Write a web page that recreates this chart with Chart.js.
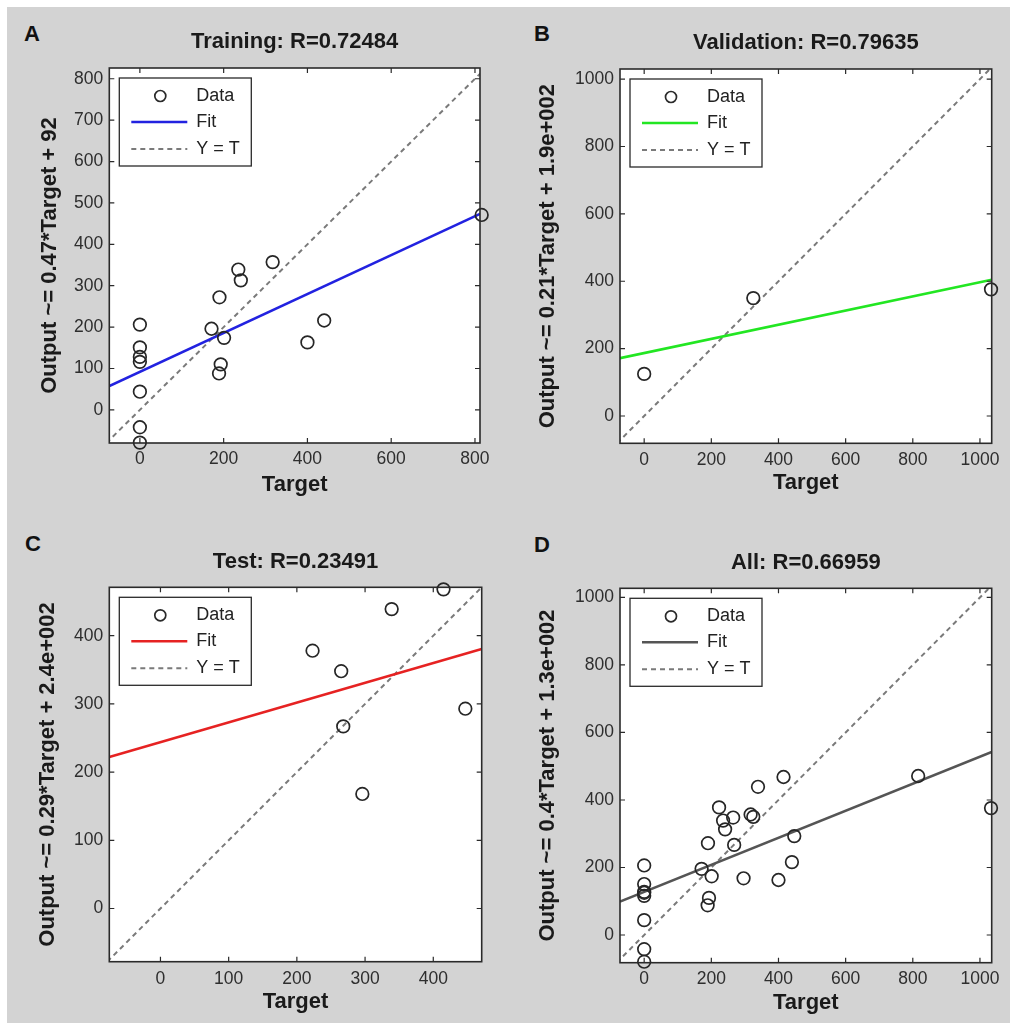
<!DOCTYPE html>
<html>
<head>
<meta charset="utf-8">
<script src="https://cdn.jsdelivr.net/npm/chart.js@4.4.1/dist/chart.umd.min.js"></script>
<style>
  html, body { margin: 0; padding: 0; background: #fff; }
  #fig { position: absolute; left: 7px; top: 7px; width: 1003px; height: 1016px; background: #d3d3d3; }
  canvas { position: absolute; }
  .letter { position: absolute; font: bold 22px "Liberation Sans", Arial, sans-serif; line-height: 22px; color: #111; }
</style>
</head>
<body>
<div id="fig"></div>
<div class="letter" style="left:24px;top:23px">A</div>
<div class="letter" style="left:534px;top:23px">B</div>
<div class="letter" style="left:25px;top:533px">C</div>
<div class="letter" style="left:534px;top:534px">D</div>
<canvas id="chartA" width="505" height="510" style="left:0;top:0"></canvas>
<canvas id="chartB" width="505" height="510" style="left:505px;top:0"></canvas>
<canvas id="chartC" width="505" height="513" style="left:0;top:510px"></canvas>
<canvas id="chartD" width="505" height="513" style="left:505px;top:510px"></canvas>
<script>
  // training set
  const trainTarget = [0, 0, 0, 0, 0, 0, 0, 190, 171, 201, 193, 189, 235, 241, 317, 400, 440, 816]
  const trainOutput = [206, 151, 128, 116, 44, -42, -79, 272, 196, 174, 110, 88, 339, 313, 357, 163, 216, 471]
  const trainFit = [0.47, 92]

  // validation set
  const valTarget = [0, 325, 1033]
  const valOutput = [125, 350, 376]
  const valFit = [0.21, 187]

  // test set
  const testTarget = [223, 265, 268, 296, 339, 415, 447]
  const testOutput = [378, 348, 267, 168, 439, 468, 293]
  const testFit = [0.29, 244]

  // all data
  const allTarget = trainTarget.concat(valTarget, testTarget)
  const allOutput = trainOutput.concat(valOutput, testOutput)
  const allFit = [0.4, 128]

  const ticks800 = [0, 200, 400, 600, 800]
  const ticks800y = [0, 100, 200, 300, 400, 500, 600, 700, 800]
  const ticks1000 = [0, 200, 400, 600, 800, 1000]
  const ticks400 = [0, 100, 200, 300, 400]

  const FONT = '"Liberation Sans", Arial, Helvetica, sans-serif'

  const panels = [
    { id: 'chartA', W: 505, H: 510, L: 109.3, R: 480, T: 68, B: 443,
      title: 'Training: R=0.72484', yLabel: 'Output ~= 0.47*Target + 92',
      target: trainTarget, output: trainOutput, fit: trainFit, color: '#2222e0',
      xLim: [-73, 812], yLim: [-80, 826], xTicks: ticks800, yTicks: ticks800y,
      yTitleX: 50, xTitleY: 485, xTickPad: 5.5 },
    { id: 'chartB', W: 505, H: 510, L: 115, R: 486.7, T: 69, B: 443.3,
      title: 'Validation: R=0.79635', yLabel: 'Output ~= 0.21*Target + 1.9e+002',
      target: valTarget, output: valOutput, fit: valFit, color: '#22e622',
      xLim: [-72, 1035], yLim: [-81, 1030], xTicks: ticks1000, yTicks: ticks1000,
      yTitleX: 43, xTitleY: 483, xTickPad: 6 },
    { id: 'chartC', W: 505, H: 513, L: 109.3, R: 481.7, T: 77.3, B: 451.7,
      title: 'Test: R=0.23491', yLabel: 'Output ~= 0.29*Target + 2.4e+002',
      target: testTarget, output: testOutput, fit: testFit, color: '#e62222',
      xLim: [-75, 471], yLim: [-78, 471], xTicks: ticks400, yTicks: ticks400,
      yTitleX: 48, xTitleY: 492, xTickPad: 7 },
    { id: 'chartD', W: 505, H: 513, L: 115, R: 486.7, T: 78.3, B: 452.7,
      title: 'All: R=0.66959', yLabel: 'Output ~= 0.4*Target + 1.3e+002',
      target: allTarget, output: allOutput, fit: allFit, color: '#555555',
      xLim: [-72, 1035], yLim: [-82, 1027], xTicks: ticks1000, yTicks: ticks1000,
      yTitleX: 43, xTitleY: 493, xTickPad: 6 }
  ]

  // white axes background, box with inward ticks, and a MATLAB-like legend
  const matlabAxes = {
    id: 'matlabAxes',
    beforeDatasetsDraw(chart) {
      const { ctx, chartArea: a } = chart
      ctx.save()
      ctx.fillStyle = '#fff'
      ctx.fillRect(a.left, a.top, a.right - a.left, a.bottom - a.top)
      ctx.restore()
    },
    afterDraw(chart) {
      const { ctx, chartArea: a, scales: { x, y } } = chart
      const ds = chart.data.datasets
      ctx.save()
      ctx.strokeStyle = '#2a2a2a'
      ctx.lineWidth = 1.2
      ctx.beginPath()
      x.ticks.forEach(t => {
        const px = x.getPixelForValue(t.value)
        ctx.moveTo(px, a.bottom); ctx.lineTo(px, a.bottom - 5)
        ctx.moveTo(px, a.top); ctx.lineTo(px, a.top + 5)
      })
      y.ticks.forEach(t => {
        const py = y.getPixelForValue(t.value)
        ctx.moveTo(a.left, py); ctx.lineTo(a.left + 5, py)
        ctx.moveTo(a.right, py); ctx.lineTo(a.right - 5, py)
      })
      ctx.stroke()
      ctx.lineWidth = 1.6
      ctx.strokeRect(a.left, a.top, a.right - a.left, a.bottom - a.top)

      // legend
      const lx = a.left + 10, ly = a.top + 10
      ctx.fillStyle = '#fff'
      ctx.fillRect(lx, ly, 132, 88)
      ctx.lineWidth = 1.3
      ctx.strokeStyle = '#2a2a2a'
      ctx.strokeRect(lx, ly, 132, 88)
      const rows = [a.top + 28, a.top + 54, a.top + 81]
      ctx.lineWidth = 1.7
      ctx.beginPath()
      ctx.arc(a.left + 51, rows[0], 5.5, 0, Math.PI * 2)
      ctx.stroke()
      ctx.strokeStyle = ds[1].borderColor
      ctx.lineWidth = 2.5
      ctx.beginPath(); ctx.moveTo(a.left + 22, rows[1]); ctx.lineTo(a.left + 78, rows[1]); ctx.stroke()
      ctx.strokeStyle = ds[2].borderColor
      ctx.lineWidth = 2
      ctx.setLineDash([5, 4])
      ctx.beginPath(); ctx.moveTo(a.left + 22, rows[2]); ctx.lineTo(a.left + 78, rows[2]); ctx.stroke()
      ctx.setLineDash([])
      ctx.fillStyle = '#222'
      ctx.font = '18px ' + FONT
      ctx.textBaseline = 'middle'
      ds.forEach((d, i) => ctx.fillText(d.label, a.left + 87, rows[i]))
      ctx.restore()
    }
  }

  panels.forEach(p => {
    const titleFont = { family: FONT, size: 22, weight: 'bold' }
    const tickFont = { family: FONT, size: 17.5 }
    const half = 22 * 1.2 / 2
    new Chart(document.getElementById(p.id), {
      type: 'scatter',
      data: {
        datasets: [
          {
            label: 'Data',
            data: p.target.map((t, i) => ({ x: t, y: p.output[i] })),
            pointRadius: 6.3,
            pointBorderWidth: 1.7,
            borderColor: '#262626',
            backgroundColor: 'rgba(0,0,0,0)',
            clip: false
          },
          {
            type: 'line',
            label: 'Fit',
            data: p.xLim.map(v => ({ x: v, y: p.fit[0] * v + p.fit[1] })),
            borderColor: p.color,
            borderWidth: 2.6,
            pointRadius: 0
          },
          {
            type: 'line',
            label: 'Y = T',
            data: [Math.min(p.xLim[0], p.yLim[0]), Math.max(p.xLim[1], p.yLim[1])].map(v => ({ x: v, y: v })),
            borderColor: '#7a7a7a',
            borderWidth: 2,
            borderDash: [5, 4],
            pointRadius: 0
          }
        ]
      },
      options: {
        responsive: false,
        animation: false,
        layout: { padding: { left: 0, top: 0, right: p.W - p.R, bottom: 0 } },
        scales: {
          x: {
            type: 'linear',
            min: p.xLim[0],
            max: p.xLim[1],
            afterBuildTicks: s => { s.ticks = p.xTicks.map(v => ({ value: v })) },
            afterFit: s => { s.height = p.H - p.B },
            grid: { display: false, drawTicks: false },
            border: { display: false },
            ticks: { font: tickFont, color: '#2e2e2e', padding: p.xTickPad, maxRotation: 0, autoSkip: false,
              callback: v => String(v) },
            title: { display: true, text: 'Target', font: titleFont, color: '#1a1a1a',
              padding: { top: 0, bottom: p.H - p.xTitleY - half } }
          },
          y: {
            type: 'linear',
            min: p.yLim[0],
            max: p.yLim[1],
            afterBuildTicks: s => { s.ticks = p.yTicks.map(v => ({ value: v })) },
            afterFit: s => { s.width = p.L },
            grid: { display: false, drawTicks: false },
            border: { display: false },
            ticks: { font: tickFont, color: '#2e2e2e', padding: 6, autoSkip: false,
              callback: v => String(v) },
            title: { display: true, text: p.yLabel, font: titleFont, color: '#1a1a1a',
              padding: { top: p.yTitleX - half, bottom: 0 } }
          }
        },
        plugins: {
          legend: { display: false },
          tooltip: { enabled: false },
          title: {
            display: true,
            text: p.title,
            fullSize: false,
            font: titleFont,
            color: '#1a1a1a',
            padding: { top: p.T - 2 * half - 12.5, bottom: 12.5 }
          }
        }
      },
      plugins: [matlabAxes]
    })
  })
</script>
</body>
</html>
